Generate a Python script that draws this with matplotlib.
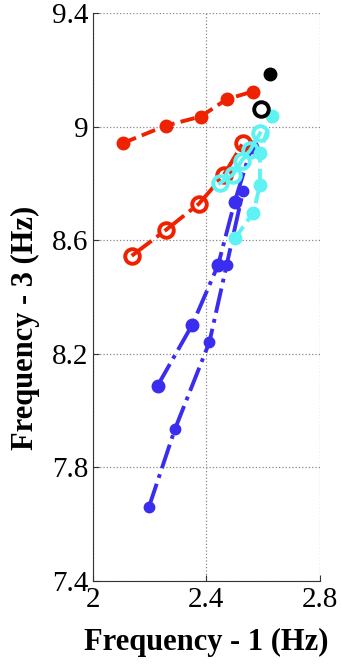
import matplotlib
matplotlib.use("Agg")
import matplotlib.pyplot as plt

red = "#EE2200"
blue = "#3A2DF0"
cyan = "#5EF2F2"

red_f_x = [2.106, 2.258, 2.381, 2.472, 2.563]
red_f_y = [8.942, 9.004, 9.036, 9.097, 9.124]
red_o_x = [2.138, 2.258, 2.374, 2.462, 2.530]
red_o_y = [8.545, 8.636, 8.728, 8.830, 8.944]
cyan_o_x = [2.448, 2.493, 2.525, 2.555, 2.589]
cyan_o_y = [8.801, 8.830, 8.881, 8.918, 8.977]
cyan_f_x = [2.501, 2.566, 2.589, 2.589, 2.632]
cyan_f_y = [8.607, 8.697, 8.795, 8.909, 9.038]
blue_a_x = [2.229, 2.351, 2.442, 2.500, 2.560]
blue_a_y = [8.087, 8.302, 8.513, 8.735, 8.930]
blue_b_x = [2.198, 2.290, 2.411, 2.472, 2.530]
blue_b_y = [7.658, 7.934, 8.240, 8.513, 8.775]
black_f = ([2.625], [9.186])
black_o = ([2.592], [9.064])

xticks = [2.0, 2.4, 2.8]
xticklabels = ["2", "2.4", "2.8"]
yticks = [7.4, 7.8, 8.2, 8.6, 9.0, 9.4]
yticklabels = ["7.4", "7.8", "8.2", "8.6", "9", "9.4"]

plt.rcParams['font.family'] = ['Liberation Serif', 'DejaVu Serif']
fig = plt.figure(figsize=(3.42, 6.65), dpi=100)
ax = fig.add_axes([0.2705, 0.127, 0.665, 0.853])

lw = 2.8
ax.plot(blue_b_x, blue_b_y, '-.', color=blue, lw=lw, marker='o', ms=7.5)
ax.plot(blue_a_x, blue_a_y, '-.', color=blue, lw=lw, marker='o', ms=9)
ax.plot(red_f_x, red_f_y, '--', color=red, lw=lw, marker='o', ms=9)
ax.plot(red_o_x, red_o_y, '-.', color=red, lw=lw, marker='o', ms=10.5,
        mfc='none', mew=2.8)
ax.plot(cyan_f_x, cyan_f_y, '--', color=cyan, lw=lw, marker='o', ms=9)
ax.plot(cyan_o_x, cyan_o_y, '-', color=cyan, lw=lw, marker='o', ms=10.5,
        mfc='none', mew=2.8)
ax.plot(*black_f, 'o', color='black', ms=9)
ax.plot(*black_o, 'o', color='black', ms=10.5, mfc='none', mew=2.8)

ax.set_xlim(2.0, 2.8)
ax.set_ylim(7.4, 9.4)
ax.set_xticks(xticks)
ax.set_xticklabels(xticklabels)
ax.set_yticks(yticks)
ax.set_yticklabels(yticklabels)
ax.tick_params(direction='in', labelsize=21, length=4, color='#333333')
ax.tick_params(axis='y', pad=3)
ax.tick_params(axis='x', pad=5)
ax.grid(True, linestyle=':', color='#888888', linewidth=0.9)
for s in ['top', 'right']:
    ax.spines[s].set_visible(False)
for s in ['left', 'bottom']:
    ax.spines[s].set_color('#333333')

ax.set_xlabel("Frequency - 1 (Hz)", fontsize=22, fontweight='bold')
ax.set_ylabel("Frequency - 3 (Hz)", fontsize=22, fontweight='bold')
ax.xaxis.set_label_coords(0.5, -0.083)
ax.yaxis.set_label_coords(-0.232, 0.445)

fig.savefig("out.png", dpi=100)
